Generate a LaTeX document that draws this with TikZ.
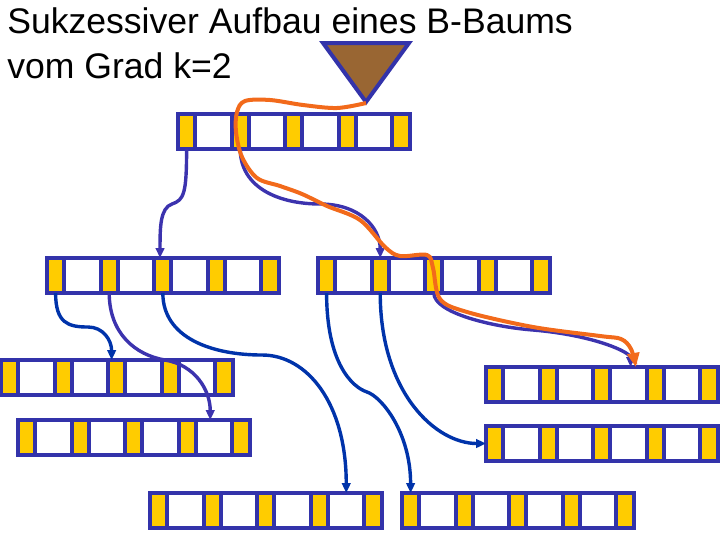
\documentclass[tikz,border=0pt]{standalone}
\usepackage{fontspec}
\setmainfont{Liberation Sans}
\usepackage{xcolor}
\usepackage{tikz}
\usetikzlibrary{positioning,arrows.meta}
\definecolor{nodeblue}{HTML}{3333AA}
\definecolor{ptryellow}{HTML}{FFCC00}
\definecolor{arrowblue}{HTML}{0033AA}
\definecolor{arrowpurple}{HTML}{3C33AE}
\definecolor{pathorange}{HTML}{F26A1B}
\definecolor{rootbrown}{HTML}{996633}
\tikzset{
  ptrcell/.style={
    draw=nodeblue,
    fill=ptryellow,
    line width=0.1cm,
    minimum width=0.43cm,
    minimum height=0.875cm,
    inner sep=0pt,
    outer sep=0pt
  },
  keycell/.style={
    ptrcell,
    fill=white,
    minimum width=0.91cm
  },
  title/.style={
    font=\fontsize{25.3pt}{31.9pt}\selectfont,
    align=left,
    inner sep=0pt
  },
  rootmark/.style={
    draw=nodeblue,
    fill=rootbrown,
    line width=0.1cm
  },
  link/.style={
    -{Triangle[length=7pt,width=6pt]},
    line width=0.085cm,
    arrowblue
  },
  linkp/.style={
    link,
    arrowpurple
  },
  search/.style={
    -{Triangle[length=10pt,width=8.5pt]},
    line width=0.1cm,
    pathorange
  }
}
% one B-tree page: name, left, top (px)
\newcommand{\btnode}[3]{%
  \node[ptrcell, anchor=north west] (#1-1) at (#2,#3) {};
  \foreach \i in {1,...,4} {
    \pgfmathtruncatemacro\nxt{\i+1}
    \node[keycell, right=0pt of #1-\i] (#1-k\i) {};
    \node[ptrcell, right=0pt of #1-k\i] (#1-\nxt) {};
  }%
}

\begin{document}
\begin{tikzpicture}[x=0.025cm, y=-0.025cm]
\useasboundingbox (0,0) rectangle (720,540);

\node[title, anchor=base west] (head) at (7,78) {Sukzessiver Aufbau eines B-Baums\\vom Grad k=2};

% root marker
\draw[rootmark] (323,43) -- (409,43) -- (366,102) -- cycle;
\coordinate (apex) at (366,103);

% pages
\btnode{root}{178}{113.5}
\btnode{la}{47}{258}
\btnode{lb}{318}{258}
\btnode{pa}{1}{360}
\btnode{pb}{18}{420}
\btnode{pc}{150}{493}
\btnode{pd}{402}{493}
\btnode{pe}{486}{367}
\btnode{pf}{486}{426}

% pointers
\draw[linkp] (root-1.south) .. controls +(0,45) and +(12,-4) .. (172,204)
  .. controls +(-12,4) and +(0,-30) .. ([xshift=-0.07cm]la-3.north);
\draw[linkp] (root-2.south) .. controls +(0,40) and +(-40,0) .. (320,204)
  .. controls +(40,0) and +(0,-30) .. (lb-2.north);
\draw[link] (la-1.south) .. controls +(0,30) and +(-20,0) .. (88,327)
  .. controls +(15,0) and +(0,-20) .. ([xshift=-0.13cm]pa-3.north);
\draw[linkp] (la-2.south) .. controls +(0,40) and +(-30,-5) .. (165,360)
  .. controls +(30,5) and +(0,-30) .. ([xshift=-0.1cm]pb-k4.north);
\draw[link] (la-3.south) .. controls +(0,45) and +(-50,0) .. (262,355)
  .. controls +(45,0) and +(0,-90) .. (pc-k4.north);
\draw[link] (lb-1.south) .. controls +(0,70) and +(-15,-5) .. (367,392)
  .. controls +(15,5) and +(0,-60) .. (pd-1.north);
\draw[link] (lb-2.south) .. controls +(0,100) and +(-50,0) .. (pf-1.west);
\draw[linkp] (lb-3.south) .. controls +(0,20) and +(-40,-3) .. (533,330)
  .. controls +(60,5) and +(0,-15) .. ([xshift=0.05cm]pe-k3.north);

% search path
\coordinate (found) at ([xshift=0.18cm]pe-k3.north);
\draw[search] plot[smooth, tension=0.55] coordinates {(apex) (337,108) (303,105)
  (270,100) (245,101) (237,112) (236,132) (242,157) (257,178) (280,186) (302,194)
  (327,206) (360,220) (385,247) (400,256) (427,255) (433,268) (440,299) (467,312)
  (533,327) (600,336) (621,339) (631,349) (found)};

\end{tikzpicture}
\end{document}
